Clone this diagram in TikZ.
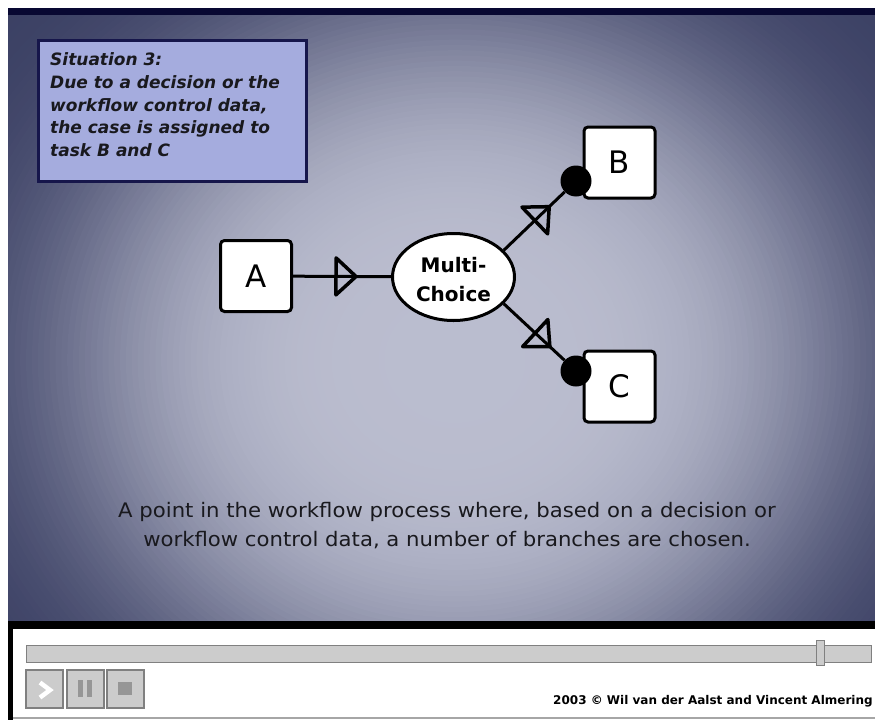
\documentclass[tikz,border=0pt]{standalone}
\usepackage{fontspec}
\setmainfont{DejaVu Sans}
\newfontfamily\descfont[FakeStretch=1.06]{DejaVu Sans}
\usetikzlibrary{decorations.markings,shapes.geometric}
\definecolor{bglight}{rgb}{0.73,0.74,0.81}
\definecolor{bgdark}{rgb}{0.23,0.25,0.39}
\definecolor{navyband}{RGB}{8,8,50}
\definecolor{sitfill}{RGB}{165,172,222}
\definecolor{sitborder}{RGB}{22,22,75}
\definecolor{uigray}{RGB}{204,204,204}
\definecolor{uiline}{RGB}{128,128,128}
\definecolor{uiicon}{RGB}{150,150,150}
\definecolor{txtdark}{RGB}{25,25,30}
\tikzset{
  taskbox/.style={draw=black, fill=white, line width=3pt, rounded corners=4pt,
    minimum size=71pt, inner sep=0pt, font=\fontsize{31}{31}\selectfont},
  choice/.style={ellipse, draw=black, fill=white, line width=3pt,
    minimum width=122pt, minimum height=87pt, inner sep=0pt},
  dotend/.style={circle, fill=black, minimum size=31pt, inner sep=0pt},
  flow/.style={line width=3pt, postaction={decorate, decoration={markings,
    mark=at position 63pt with {\draw[line width=3.5pt, line join=round, fill=none]
      (-20pt,-18.5pt) -- (0pt,0pt) -- (-20pt,18.5pt) -- cycle;}}}},
  uibox/.style={draw=uiline, fill=uigray, line width=1.2pt},
}
\begin{document}
\begin{tikzpicture}[x=1pt, y=-1pt]
\useasboundingbox (0,0) rectangle (875,720);
\fill[white] (0,0) rectangle (875,720);
% background gradient
\begin{scope}
  \clip (8,15) rectangle (875,621);
  \foreach \i in {0,...,112} {
    \pgfmathsetmacro\r{1.40-\i*0.0125}
    \pgfmathsetmacro\p{100*exp(-(\r/0.85)^4)}
    \pgfmathsetmacro\rx{\r*470}
    \pgfmathsetmacro\ry{\r*420}
    \fill[bglight!\p!bgdark] (455,360) ellipse [x radius=\rx, y radius=\ry];
  }
\end{scope}
\fill[navyband] (8,8) rectangle (875,15);
% bottom panel
\fill[black] (8,621) rectangle (875,629);
\fill[black] (8,629) rectangle (13,720);
\fill[white] (13,629) rectangle (875,717);
\draw[gray!70, line width=1.5pt] (13,718) -- (875,718);
% situation box
\node[draw=sitborder, line width=3pt, fill=sitfill, minimum width=268pt,
  minimum height=141pt, inner sep=0pt] (sit) at (172.5,111) {};
\node[anchor=north west, align=left, inner sep=0pt, text=txtdark,
  font=\fontsize{17}{22.75}\selectfont\bfseries\itshape] (sittext) at (50,52.5)
  {Situation 3:\\Due to a decision or the\\workflow control data,\\the case is assigned to\\task B and C};
% diagram
\node[taskbox] (A) at (256,276) {A};
\node[taskbox] (B) at (619.5,162.5) {B};
\node[taskbox] (C) at (619.5,386.5) {C};
\node[choice] (mc) at (453.5,277) {};
\node[align=center, inner sep=0pt, font=\fontsize{20}{29.5}\selectfont\bfseries] (mct) at (453.5,279.5) {Multi-\\Choice};
\node[dotend] (dB) at (576,181) {};
\node[dotend] (dC) at (576,371) {};
\draw[flow] (A) -- (mc);
\draw[flow] (mc.28) -- (dB);
\draw[flow] (mc.-28) -- (dC);
% description
\node[anchor=north, align=center, inner sep=0pt, text=txtdark,
  font=\descfont\fontsize{20}{29}\selectfont] (desc) at (447,502)
  {A point in the workflow process where, based on a decision or\\workflow control data, a number of branches are chosen.};
% controls
\draw[uibox, line width=1pt] (26,645) rectangle (871,662);
\draw[uibox, line width=1pt] (816,640) rectangle (824,665);
\draw[uibox] (26,670) rectangle (63,708);
\draw[uibox] (67,670) rectangle (104,708);
\draw[uibox] (107,670) rectangle (144,708);
\draw[white, line width=4.5pt, line join=miter] (40,682.5) -- (50,690) -- (40,697.5);
\fill[uiicon] (78,680) rectangle (83,697);
\fill[uiicon] (87,680) rectangle (92,697);
\fill[uiicon] (118,682) rectangle (132,695);
\node[anchor=base west, inner sep=0pt, text=black,
  font=\fontsize{12}{12}\selectfont\bfseries] (copy) at (553,704)
  {2003 © Wil van der Aalst and Vincent Almering};
\end{tikzpicture}
\end{document}
